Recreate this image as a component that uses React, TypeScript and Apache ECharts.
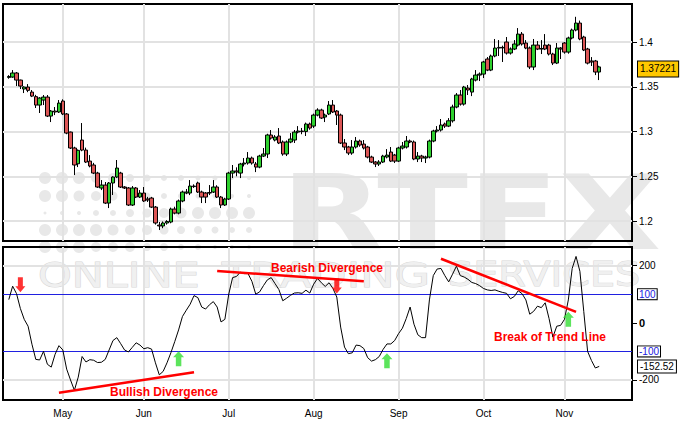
import React, { useEffect, useRef } from 'react';
import * as echarts from 'echarts';

const FONT = 'Liberation Sans, Arial, Helvetica, sans-serif';

// ---------- data ----------
const firstTradingDay = '2010-04-13';
const monthNames = ['Jan', 'Feb', 'Mar', 'Apr', 'May', 'Jun', 'Jul', 'Aug', 'Sep', 'Oct', 'Nov', 'Dec'];

const opens = [
  1.3605, 1.3609, 1.3654, 1.3575, 1.3475, 1.3497, 1.3441, 1.3390, 1.3296, 1.3352,
  1.3385, 1.3173, 1.3229, 1.3218, 1.3341, 1.3196, 1.2994, 1.2816, 1.2640, 1.2905,
  1.2793, 1.2670, 1.2626, 1.2536, 1.2369, 1.2402, 1.2201, 1.2425, 1.2492, 1.2536,
  1.2380, 1.2369, 1.2179, 1.2369, 1.2268, 1.2313, 1.2246, 1.2257, 1.2156, 1.1955,
  1.1945, 1.1978, 1.1989, 1.2134, 1.2089, 1.2224, 1.2313, 1.2313, 1.2391, 1.2425,
  1.2324, 1.2313, 1.2318, 1.2324, 1.2380, 1.2268, 1.2179, 1.2246, 1.2536, 1.2559,
  1.2536, 1.2637, 1.2648, 1.2704, 1.2637, 1.2603, 1.2726, 1.2749, 1.2961, 1.2905,
  1.2950, 1.2883, 1.2749, 1.2883, 1.2905, 1.2994, 1.3006, 1.3000, 1.3084, 1.3061,
  1.3184, 1.3240, 1.3162, 1.3196, 1.3296, 1.3229, 1.3184, 1.2872, 1.2827, 1.2760,
  1.2827, 1.2894, 1.2860, 1.2827, 1.2715, 1.2659, 1.2637, 1.2659, 1.2715, 1.2771,
  1.2737, 1.2670, 1.2816, 1.2827, 1.2894, 1.2883, 1.2693, 1.2726, 1.2704, 1.2715,
  1.2894, 1.3006, 1.3017, 1.3084, 1.3061, 1.3120, 1.3274, 1.3408, 1.3307, 1.3486,
  1.3441, 1.3575, 1.3631, 1.3642, 1.3810, 1.3687, 1.3844, 1.3933, 1.3940, 1.4000,
  1.3877, 1.3922, 1.3966, 1.4089, 1.3989, 1.3933, 1.3721, 1.3966, 1.3922, 1.3966,
  1.3966, 1.3866, 1.3765, 1.3933, 1.3989, 1.3888, 1.4045, 1.4134, 1.4212, 1.4056,
  1.3922, 1.3788, 1.3788, 1.3665,
];
const closes = [
  1.3615, 1.3654, 1.3575, 1.3508, 1.3497, 1.3460, 1.3396, 1.3296, 1.3374, 1.3385,
  1.3173, 1.3229, 1.3218, 1.3318, 1.3196, 1.2983, 1.2816, 1.2626, 1.2790, 1.2793,
  1.2659, 1.2615, 1.2536, 1.2380, 1.2402, 1.2201, 1.2425, 1.2492, 1.2592, 1.2380,
  1.2369, 1.2179, 1.2369, 1.2268, 1.2313, 1.2224, 1.2235, 1.2156, 1.1978, 1.1945,
  1.1978, 1.1995, 1.2134, 1.2089, 1.2224, 1.2324, 1.2324, 1.2391, 1.2385, 1.2324,
  1.2268, 1.2268, 1.2313, 1.2380, 1.2268, 1.2179, 1.2246, 1.2536, 1.2559, 1.2548,
  1.2637, 1.2648, 1.2704, 1.2648, 1.2603, 1.2726, 1.2749, 1.2961, 1.2927, 1.2939,
  1.2872, 1.2749, 1.2883, 1.2916, 1.2994, 1.3006, 1.3000, 1.3084, 1.3039, 1.3184,
  1.3240, 1.3151, 1.3184, 1.3296, 1.3218, 1.3184, 1.2872, 1.2827, 1.2760, 1.2827,
  1.2894, 1.2849, 1.2816, 1.2715, 1.2659, 1.2637, 1.2659, 1.2726, 1.2737, 1.2670,
  1.2670, 1.2816, 1.2838, 1.2894, 1.2883, 1.2693, 1.2726, 1.2704, 1.2715, 1.2894,
  1.3006, 1.3017, 1.3073, 1.3061, 1.3120, 1.3274, 1.3408, 1.3307, 1.3497, 1.3464,
  1.3587, 1.3631, 1.3642, 1.3777, 1.3687, 1.3844, 1.3933, 1.3940, 1.3935, 1.3877,
  1.3922, 1.3978, 1.4089, 1.3978, 1.3933, 1.3721, 1.3966, 1.3922, 1.3928, 1.3922,
  1.3866, 1.3765, 1.3933, 1.3922, 1.3888, 1.4045, 1.4134, 1.4212, 1.4034, 1.3911,
  1.3765, 1.3777, 1.3665, 1.37221,
];
const lows = [
  1.3590, 1.3600, 1.3508, 1.3475, 1.3430, 1.3440, 1.3385, 1.3263, 1.3207, 1.3296,
  1.3162, 1.3106, 1.3184, 1.3207, 1.3184, 1.2970, 1.2805, 1.2514, 1.2603, 1.2780,
  1.2648, 1.2600, 1.2525, 1.2370, 1.2346, 1.2190, 1.2145, 1.2291, 1.2480, 1.2369,
  1.2358, 1.2168, 1.2168, 1.2257, 1.2257, 1.2213, 1.2213, 1.2145, 1.1960, 1.1900,
  1.1920, 1.1960, 1.1975, 1.2075, 1.2075, 1.2210, 1.2300, 1.2290, 1.2370, 1.2313,
  1.2201, 1.2201, 1.2290, 1.2313, 1.2257, 1.2145, 1.2168, 1.2235, 1.2480, 1.2500,
  1.2480, 1.2610, 1.2630, 1.2630, 1.2547, 1.2590, 1.2715, 1.2704, 1.2910, 1.2890,
  1.2860, 1.2730, 1.2726, 1.2870, 1.2872, 1.2980, 1.2970, 1.2950, 1.3020, 1.3040,
  1.3170, 1.3140, 1.3106, 1.3184, 1.3207, 1.3073, 1.2860, 1.2793, 1.2737, 1.2740,
  1.2810, 1.2830, 1.2800, 1.2700, 1.2648, 1.2603, 1.2615, 1.2648, 1.2700, 1.2659,
  1.2648, 1.2659, 1.2800, 1.2810, 1.2870, 1.2680, 1.2659, 1.2659, 1.2648, 1.2700,
  1.2880, 1.2990, 1.3000, 1.3040, 1.3050, 1.3100, 1.3260, 1.3290, 1.3290, 1.3408,
  1.3396, 1.3560, 1.3564, 1.3598, 1.3675, 1.3675, 1.3830, 1.3844, 1.3777, 1.3860,
  1.3860, 1.3910, 1.3950, 1.3960, 1.3920, 1.3698, 1.3687, 1.3910, 1.3866, 1.3910,
  1.3850, 1.3743, 1.3754, 1.3810, 1.3870, 1.3870, 1.4030, 1.4120, 1.4020, 1.3899,
  1.3750, 1.3732, 1.3631, 1.3575,
];
const highs = [
  1.3630, 1.3687, 1.3665, 1.3580, 1.3505, 1.3530, 1.3464, 1.3410, 1.3385, 1.3408,
  1.3408, 1.3240, 1.3274, 1.3352, 1.3360, 1.3207, 1.3000, 1.2830, 1.2800, 1.3095,
  1.2820, 1.2737, 1.2650, 1.2550, 1.2458, 1.2436, 1.2436, 1.2500, 1.2682, 1.2550,
  1.2390, 1.2380, 1.2391, 1.2380, 1.2346, 1.2380, 1.2270, 1.2270, 1.2168, 1.1989,
  1.1995, 1.2010, 1.2150, 1.2160, 1.2240, 1.2340, 1.2358, 1.2458, 1.2410, 1.2440,
  1.2340, 1.2324, 1.2402, 1.2458, 1.2400, 1.2280, 1.2260, 1.2550, 1.2626, 1.2600,
  1.2650, 1.2704, 1.2771, 1.2720, 1.2660, 1.2740, 1.2816, 1.2975, 1.3017, 1.2960,
  1.3039, 1.2900, 1.2900, 1.2983, 1.3017, 1.3061, 1.3040, 1.3100, 1.3100, 1.3200,
  1.3260, 1.3255, 1.3200, 1.3341, 1.3352, 1.3240, 1.3200, 1.2916, 1.2840, 1.2905,
  1.2939, 1.2910, 1.2905, 1.2840, 1.2730, 1.2670, 1.2680, 1.2740, 1.2804, 1.2827,
  1.2750, 1.2830, 1.2883, 1.2950, 1.2910, 1.2900, 1.2771, 1.2740, 1.2730, 1.2910,
  1.3020, 1.3061, 1.3140, 1.3100, 1.3150, 1.3300, 1.3430, 1.3464, 1.3510, 1.3520,
  1.3600, 1.3687, 1.3660, 1.3790, 1.3832, 1.3860, 1.4034, 1.4022, 1.3960, 1.4056,
  1.3940, 1.4022, 1.4156, 1.4112, 1.4022, 1.3950, 1.4034, 1.4011, 1.4022, 1.4089,
  1.3980, 1.3880, 1.3989, 1.3944, 1.4000, 1.4060, 1.4150, 1.4282, 1.4240, 1.4070,
  1.3935, 1.3832, 1.3800, 1.3735,
];
const cci = [
  81, 128, 102, 50, 12, -12, -75, -128, -130, -100,
  -145, -155, -110, -80, -95, -162, -200, -236, -190, -118,
  -137, -129, -131, -139, -138, -128, -95, -62, -52, -73,
  -95, -102, -86, -70, -78, -91, -87, -92, -140, -182,
  -170, -140, -105, -66, -25, 22, 44, 65, 95, 88,
  55, 48, 63, 74, 55, 3, 12, 100, 158, 162,
  177, 172, 172, 145, 100, 108, 130, 150, 158, 137,
  116, 77, 86, 96, 104, 105, 103, 114, 104, 135,
  155, 140, 127, 140, 120, 90, -15, -85, -108, -105,
  -78, -80, -90, -122, -134, -129, -118, -93, -74, -74,
  -62, -38, -19, 15, 55, -5, -42, -52, -52, 80,
  165, 188, 190, 165, 143, 170, 198, 165, 160, 152,
  141, 137, 130, 120, 115, 113, 115, 110, 106, 103,
  84, 92, 112, 102, 80, 30, 40, 58, 53, 70,
  15, -50, -12, -9, 12, 80, 190, 232, 180, 40,
  -100, -132, -158, -152.52,
];

const priceTicks = [1.2, 1.25, 1.3, 1.35, 1.4];
const cciTicks = [-200, 0, 200];
const cciGridLines = [-200, 200];
const cciBands = [100, -100];
const lastPrice = 1.37221;
const lastCci = -152.52;

// annotation anchors: [category index, CCI value]
const bullishLine = [[14, -245], [49, -173]];
const bearishLine = [[55, 181], [93, 145]];
const breakLine = [[113, 224], [148, 38]];
const downArrows = [[4, 133], [86, 129]];
const upArrows = [[45, -126], [99, -133], [146, 12]];

// ---------- helpers ----------
function tradingDates(start: string, count: number): string[] {
  const out: string[] = [];
  const d = new Date(start + 'T00:00:00Z');
  while (out.length < count) {
    const wd = d.getUTCDay();
    if (wd !== 0 && wd !== 6) out.push(d.toISOString().slice(0, 10));
    d.setUTCDate(d.getUTCDate() + 1);
  }
  return out;
}

function boxLabel(text: string, color: string, bg: string, padding: number[]) {
  return {
    show: true,
    position: 'end',
    distance: 6,
    formatter: text,
    color,
    backgroundColor: bg,
    borderColor: '#000',
    borderWidth: 1,
    padding,
    fontSize: 10,
    fontFamily: FONT,
  };
}

function buildOption() {
  const dates = tradingDates(firstTradingDay, closes.length);
  const cats = ['pad-L', ...dates, ...Array.from({ length: 8 }, (_, k) => `pad-R${k}`)];
  const monthStarts = dates.filter((d, i) => i > 0 && d.slice(5, 7) !== dates[i - 1].slice(5, 7));
  const monthSet = new Set(monthStarts);
  const n = closes.length;
  const candleData = cats.map((_, i) =>
    i >= 1 && i <= n ? [opens[i - 1], closes[i - 1], lows[i - 1], highs[i - 1]] : '-'
  );
  const cciData = cats.map((_, i) => (i >= 1 && i <= cci.length ? cci[i - 1] : null));

  const gridLineStyle = { color: '#e2e2e2', width: 2, type: 'solid' };
  const red = '#ff0000';
  const blue = '#2020e0';

  const wm = '#e8e8e8';
  const dotCols = [45, 62, 79, 96, 113, 130, 147, 164, 181, 198, 215, 232, 249];
  const dotRows = [
    { y: 178, r: [6, 6, 6, 5, 5, 4, 3.5, 3, 3, 2.5, 2.5, 2, 2] },
    { y: 196, r: [6, 6, 5.5, 5, 4.5, 4, 3.5, 3, 3, 2.5, 2.5, 2, 2] },
    { y: 213, r: [1.5, 2, 2, 3, 3, 4, 4.5, 5, 5.5, 6, 6, 6, 6] },
    { y: 230, r: [6, 6, 6, 6, 5.5, 5, 5, 4.5, 4, 4, 3.5, 3, 3] },
    { y: 247, r: [6, 6, 6, 5, 5, 5, 4, 4, 3, 3, 2, 2, 2] },
  ];
  const dots: any[] = [];
  dotRows.forEach((row) =>
    dotCols.forEach((x, k) =>
      dots.push({ type: 'circle', z: -1, silent: true, shape: { cx: x, cy: row.y, r: row.r[k] }, style: { fill: wm } })
    )
  );

  const wmWord = (text: string, x: number, scaleX: number) => ({
    type: 'text',
    z: -1,
    silent: true,
    x,
    y: 275,
    scaleX,
    style: {
      text,
      x: 0,
      y: 0,
      font: '33px DejaVu Sans',
      fill: '#f0f0f0',
      stroke: '#d8d8d8',
      lineWidth: 1,
      textAlign: 'left',
      textVerticalAlign: 'middle',
    },
  });

  const annText = (text: string, x: number, y: number) => ({
    type: 'text',
    z: 100,
    silent: true,
    style: {
      text,
      x,
      y,
      font: `bold 12px ${FONT}`,
      fill: red,
      textAlign: 'center',
      textVerticalAlign: 'middle',
    },
  });

  const redLine = { color: red, width: 2.5, type: 'solid' };
  const blueLine = { color: blue, width: 1, type: 'solid' };

  return {
    animation: false,
    backgroundColor: '#fff',
    grid: [
      { left: 3, right: 49, top: 4, height: 237, show: true, borderColor: '#000', borderWidth: 2, backgroundColor: 'transparent', containLabel: false, outerBoundsMode: 'none' },
      { left: 3, right: 49, top: 247, height: 153, show: true, borderColor: '#000', borderWidth: 2, backgroundColor: 'transparent', containLabel: false, outerBoundsMode: 'none' },
    ],
    xAxis: [
      {
        gridIndex: 0,
        type: 'category',
        data: cats,
        boundaryGap: true,
        axisLine: { show: false },
        axisTick: { show: false },
        axisLabel: { show: false },
        splitLine: { show: false },
      },
      {
        gridIndex: 1,
        type: 'category',
        data: cats,
        boundaryGap: true,
        axisLine: { show: false },
        axisTick: {
          show: true,
          alignWithLabel: true,
          inside: false,
          length: 5,
          interval: (_i: number, v: string) => monthSet.has(v),
          lineStyle: { color: '#000', width: 1 },
        },
        axisLabel: {
          show: true,
          interval: (_i: number, v: string) => monthSet.has(v),
          formatter: (v: string) => monthNames[parseInt(v.slice(5, 7), 10) - 1],
          color: '#000',
          fontSize: 10,
          fontFamily: FONT,
          margin: 8,
        },
        splitLine: { show: false },
      },
    ],
    yAxis: [
      {
        gridIndex: 0,
        type: 'value',
        position: 'right',
        min: 1.1777,
        max: 1.4425,
        axisLine: { show: false },
        splitLine: { show: false },
        axisTick: { show: true, customValues: priceTicks, length: 5, lineStyle: { color: '#000', width: 1 } },
        axisLabel: {
          customValues: priceTicks,
          formatter: (v: number) => String(+v.toFixed(4)),
          color: '#000',
          fontSize: 10,
          fontFamily: FONT,
          margin: 7,
        },
      },
      {
        gridIndex: 1,
        type: 'value',
        position: 'right',
        min: -270,
        max: 265,
        axisLine: { show: false },
        splitLine: { show: false },
        axisTick: { show: true, customValues: cciTicks, length: 5, lineStyle: { color: '#000', width: 1 } },
        axisLabel: {
          customValues: cciTicks,
          formatter: (v: number) => (v === 0 ? '{z|0}' : String(v)),
          rich: { z: { fontWeight: 'bold', fontSize: 11, color: '#000', fontFamily: FONT } },
          color: '#000',
          fontSize: 10,
          fontFamily: FONT,
          margin: 7,
        },
      },
    ],
    graphic: {
      elements: [
        ...dots,
        {
          type: 'text',
          z: -1,
          silent: true,
          x: 281,
          y: 213,
          scaleX: 1.29,
          style: {
            text: 'RTFX',
            x: 0,
            y: 0,
            font: 'bold 103px DejaVu Sans',
            fill: wm,
            textAlign: 'left',
            textVerticalAlign: 'middle',
          },
        },
        wmWord('ONLINE', 38, 1.3),
        wmWord('TRADING', 222, 1.39),
        wmWord('SERVICES', 448, 1.2),
        annText('Bullish Divergence', 164, 392),
        annText('Bearish Divergence', 327, 268),
        annText('Break of Trend Line', 550, 337),
      ],
    },
    series: [
      {
        name: 'price-grid',
        type: 'line',
        xAxisIndex: 0,
        yAxisIndex: 0,
        data: [],
        silent: true,
        markLine: {
          z: 1,
          silent: true,
          symbol: ['none', 'none'],
          label: { show: false },
          lineStyle: gridLineStyle,
          data: [...monthStarts.map((d) => ({ xAxis: d })), ...priceTicks.map((v) => ({ yAxis: v }))],
        },
      },
      {
        name: 'EUR/USD',
        type: 'candlestick',
        xAxisIndex: 0,
        yAxisIndex: 0,
        data: candleData,
        barWidth: 4,
        itemStyle: {
          color: '#2ed02e',
          color0: '#dc5656',
          borderColor: '#000',
          borderColor0: '#000',
          borderColorDoji: '#000',
          borderWidth: 1,
        },
        markLine: {
          silent: true,
          symbol: ['none', 'none'],
          lineStyle: { width: 0, color: 'rgba(0,0,0,0)' },
          data: [{ yAxis: lastPrice, label: boxLabel(String(lastPrice), '#000', '#ffc800', [3, 2, 2, 2]) }],
        },
      },
      {
        name: 'cci-grid',
        type: 'line',
        xAxisIndex: 1,
        yAxisIndex: 1,
        data: [],
        silent: true,
        markLine: {
          z: 1,
          silent: true,
          symbol: ['none', 'none'],
          label: { show: false },
          lineStyle: gridLineStyle,
          data: [...monthStarts.map((d) => ({ xAxis: d })), ...cciGridLines.map((v) => ({ yAxis: v }))],
        },
      },
      {
        name: 'cci-bands',
        type: 'line',
        xAxisIndex: 1,
        yAxisIndex: 1,
        data: [],
        silent: true,
        markLine: {
          z: 3,
          silent: true,
          symbol: ['none', 'none'],
          lineStyle: blueLine,
          data: cciBands.map((v) => ({
            yAxis: v,
            lineStyle: blueLine,
            label: boxLabel(String(v), blue, '#fff', [0, 1, 0, 1]),
          })),
        },
      },
      {
        name: 'CCI',
        type: 'line',
        xAxisIndex: 1,
        yAxisIndex: 1,
        data: cciData,
        showSymbol: false,
        symbol: 'none',
        silent: true,
        z: 4,
        lineStyle: { color: '#000', width: 1 },
        markLine: {
          silent: true,
          symbol: ['none', 'none'],
          label: { show: false },
          lineStyle: redLine,
          data: [
            {
              yAxis: lastCci,
              lineStyle: { width: 0, color: 'rgba(0,0,0,0)' },
              label: boxLabel(String(lastCci), '#000', '#fff', [1, 2, 1, 2]),
            },
            ...[bullishLine, bearishLine, breakLine].map((ln) => [
              { coord: ln[0], lineStyle: redLine },
              { coord: ln[1] },
            ]),
          ],
        },
      },
      {
        name: 'sell',
        type: 'scatter',
        xAxisIndex: 1,
        yAxisIndex: 1,
        silent: true,
        z: 6,
        symbol: 'path://M2.5,0L7.5,0L7.5,9L10,9L5,15L0,9L2.5,9Z',
        symbolSize: [10, 15],
        itemStyle: { color: '#ff0000' },
        data: downArrows,
      },
      {
        name: 'buy',
        type: 'scatter',
        xAxisIndex: 1,
        yAxisIndex: 1,
        silent: true,
        z: 6,
        symbol: 'path://M5,0L10,6L7.5,6L7.5,15L2.5,15L2.5,6L0,6Z',
        symbolSize: [11, 15],
        itemStyle: { color: '#33dd33' },
        data: upArrows,
      },
    ],
  };
}

export default function App() {
  const ref = useRef<HTMLDivElement>(null);
  useEffect(() => {
    if (!ref.current) return;
    const chart = echarts.init(ref.current, null, { renderer: 'svg' });
    chart.setOption(buildOption() as any);
    return () => chart.dispose();
  }, []);
  return (
    <div
      ref={ref}
      style={{ position: 'fixed', left: 0, top: 0, width: 681, height: 421, background: '#fff' }}
    />
  );
}
